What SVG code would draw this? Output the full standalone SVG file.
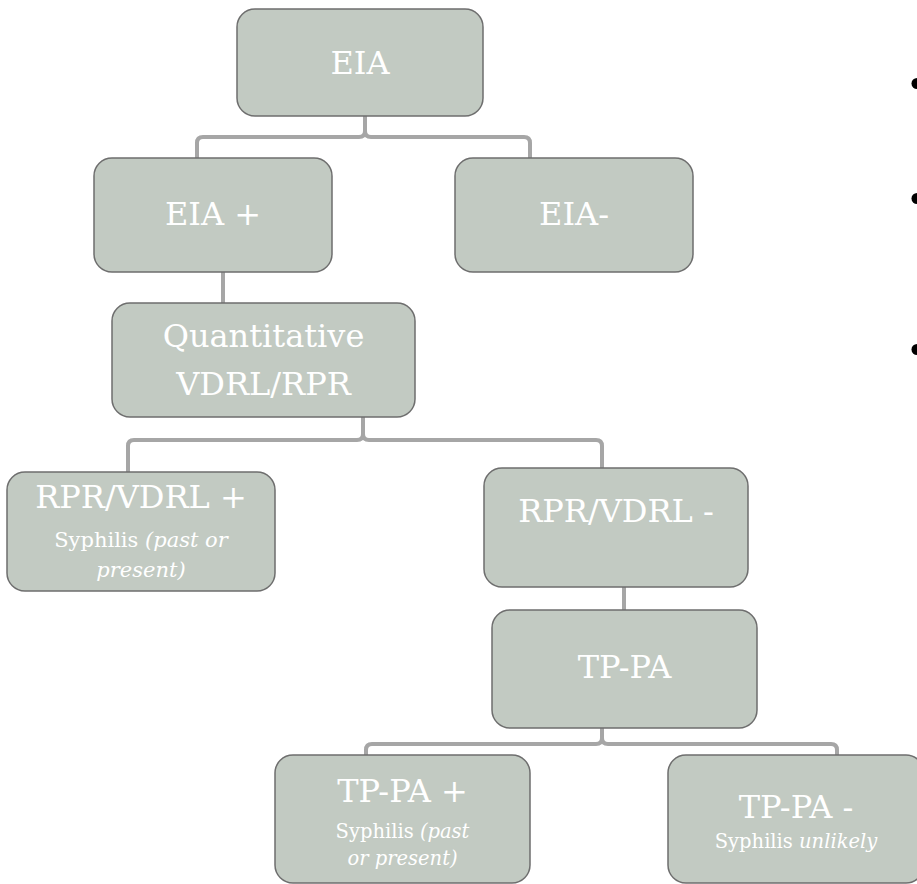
<svg xmlns="http://www.w3.org/2000/svg" width="917" height="884" viewBox="0 0 917 884">
<style>
.box{fill:#c2cac2;stroke:#6e6e6e;stroke-width:1.5}
.t{font-family:"DejaVu Serif","Liberation Serif",serif;fill:#ffffff;text-anchor:middle}
.big{font-size:32px}
.sm{font-size:19.5px}
.sm2{font-size:21px}
.it{font-style:italic}
.con{fill:none;stroke:#a6a6a6;stroke-width:4;stroke-linejoin:round}
.bul{fill:#000}
</style>
<rect width="917" height="884" fill="#ffffff"/>
<g id="connectors">
<path class="con" d="M365 116 V131 Q365 137 359 137 H203 Q197 137 197 143 V158"/>
<path class="con" d="M365 116 V131 Q365 137 371 137 H524 Q530 137 530 143 V158"/>
<path class="con" d="M223 272 V303"/>
<path class="con" d="M363 417 V434 Q363 440 357 440 H134 Q128 440 128 446 V472"/>
<path class="con" d="M363 417 V434 Q363 440 369 440 H596 Q602 440 602 446 V468"/>
<path class="con" d="M624 587 V610"/>
<path class="con" d="M602 728 V738 Q602 744 596 744 H372 Q366 744 366 750 V755"/>
<path class="con" d="M602 728 V738 Q602 744 608 744 H831 Q837 744 837 750 V755"/>
</g>
<g id="eia">
<rect class="box" x="237" y="9" width="246" height="107" rx="18"/>
<text class="t big" x="360" y="74">EIA</text>
</g>
<g id="eia-pos">
<rect class="box" x="94" y="158" width="238" height="114" rx="18"/>
<text class="t big" x="213" y="225">EIA +</text>
</g>
<g id="eia-neg">
<rect class="box" x="455" y="158" width="238" height="114" rx="18"/>
<text class="t big" x="574" y="225">EIA-</text>
</g>
<g id="quant">
<rect class="box" x="112" y="303" width="303" height="114" rx="18"/>
<text class="t big" x="263.5" y="347">Quantitative</text>
<text class="t big" x="263.5" y="395">VDRL/RPR</text>
</g>
<g id="rpr-pos">
<rect class="box" x="7" y="472" width="268" height="119" rx="18"/>
<text class="t big" x="141" y="508">RPR/VDRL +</text>
<text class="t sm2" x="141" y="547">Syphilis <tspan class="it">(past or</tspan></text>
<text class="t sm2 it" x="141" y="577">present)</text>
</g>
<g id="rpr-neg">
<rect class="box" x="484" y="468" width="264" height="119" rx="18"/>
<text class="t big" x="616" y="522">RPR/VDRL -</text>
</g>
<g id="tppa">
<rect class="box" x="492" y="610" width="265" height="118" rx="18"/>
<text class="t big" x="624.5" y="678">TP-PA</text>
</g>
<g id="tppa-pos">
<rect class="box" x="275" y="755" width="255" height="128" rx="18"/>
<text class="t big" x="402.5" y="802">TP-PA +</text>
<text class="t sm" x="402.5" y="838">Syphilis <tspan class="it">(past</tspan></text>
<text class="t sm it" x="402.5" y="865">or present)</text>
</g>
<g id="tppa-neg">
<rect class="box" x="668" y="755" width="256" height="128" rx="18"/>
<text class="t big" x="796" y="818">TP-PA -</text>
<text class="t sm" x="796" y="848">Syphilis <tspan class="it">unlikely</tspan></text>
</g>
<g id="bullets">
<circle class="bul" cx="917" cy="83.5" r="5.5"/>
<circle class="bul" cx="917" cy="198.5" r="5.5"/>
<circle class="bul" cx="917" cy="349.5" r="5.5"/>
</g>
</svg>
